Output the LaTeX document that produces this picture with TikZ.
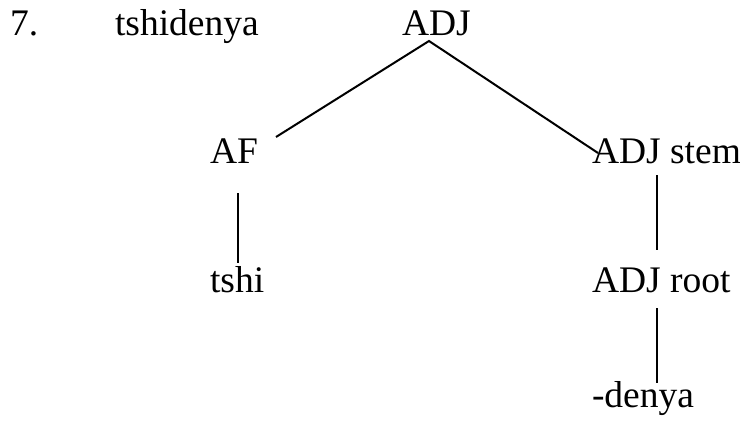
\documentclass[tikz,border=0pt]{standalone}
\usepackage{fontspec}
\setmainfont{Liberation Serif}
\begin{document}
\begin{tikzpicture}[x=1pt,y=-1pt,
  lbl/.style={anchor=base west,inner sep=0pt,outer sep=0pt,font=\fontsize{37.5}{40}\selectfont},
  edge/.style={line width=2pt,black}]
\useasboundingbox (0,0) rectangle (740,428);
\node[lbl] (num) at (10,36) {7.};
\node[lbl] (word) at (115,36) {tshidenya};
\node[lbl] (adj) at (402,36) {ADJ};
\node[lbl] (af) at (210,164) {AF};
\node[lbl] (stem) at (592,164) {ADJ stem};
\node[lbl] (tshi) at (210,292) {tshi};
\node[lbl] (root) at (592,292) {ADJ root};
\node[lbl] (denya) at (592,407) {-denya};
\coordinate (apex) at (429,41);
\coordinate (afTop) at (276,137);
\coordinate (stemTop) at (598,153);
\coordinate (afBot) at (238,193);
\coordinate (tshiTop) at (238,263);
\coordinate (stemBot) at (657,175);
\coordinate (rootTop) at (657,250);
\coordinate (rootBot) at (657,308);
\coordinate (denyaTop) at (657,383);
\draw[edge] (afTop) -- (apex) -- (stemTop);
\draw[edge] (afBot) -- (tshiTop);
\draw[edge] (stemBot) -- (rootTop);
\draw[edge] (rootBot) -- (denyaTop);
\end{tikzpicture}
\end{document}
